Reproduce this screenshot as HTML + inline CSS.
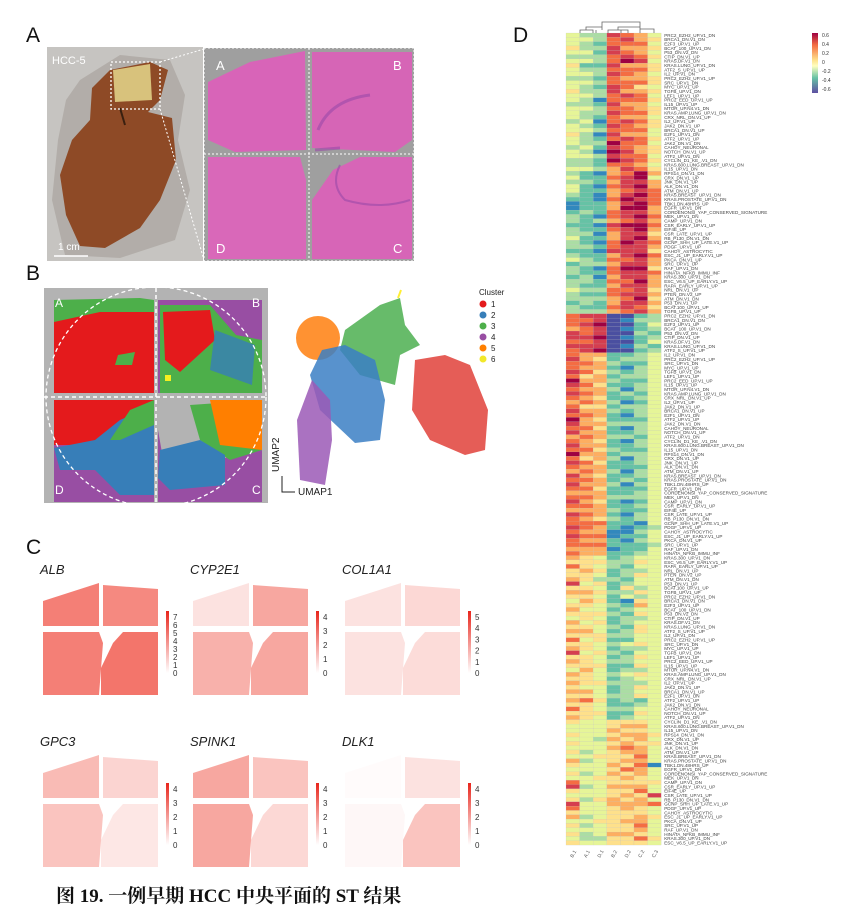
<!DOCTYPE html>
<html><head><meta charset="utf-8">
<style>
body{margin:0;background:#fff;width:865px;height:917px;overflow:hidden;font-family:"Liberation Sans",sans-serif;}
#root{position:relative;width:865px;height:917px;}
.plabel{position:absolute;font-size:21px;color:#111;}
svg{position:absolute;left:0;top:0;}
</style></head>
<body><div id="root">
<div class="plabel" style="left:26px;top:24px">A</div>
<div class="plabel" style="left:26px;top:262px">B</div>
<div class="plabel" style="left:26px;top:536px">C</div>
<div class="plabel" style="left:513px;top:24px">D</div>

<svg width="865" height="917">
<defs>
<linearGradient id="cb" x1="0" y1="1" x2="0" y2="0"><stop offset="0" stop-color="#fff"/><stop offset="1" stop-color="#e8261c"/></linearGradient>
<linearGradient id="hcb" x1="0" y1="0" x2="0" y2="1"><stop offset="0" stop-color="#9e0142"/><stop offset="0.2" stop-color="#f46d43"/><stop offset="0.45" stop-color="#fee08b"/><stop offset="0.55" stop-color="#ffffbf"/><stop offset="0.75" stop-color="#66c2a5"/><stop offset="1" stop-color="#5e4fa2"/></linearGradient>
</defs>
<!-- Panel A photo -->
<g>
<rect x="47" y="47" width="156" height="214" fill="#c6c4c1"/>
<path d="M80,80 L120,55 L170,60 L185,95 L178,140 L190,190 L175,240 L120,258 L65,255 L52,200 L58,140 L66,100 Z" fill="#a9a49e" opacity="0.7"/>
<path d="M92,88 L110,70 L150,62 L168,70 L160,100 L148,112 L172,118 L176,160 L160,200 L140,228 L105,248 L80,246 L66,215 L60,175 L72,140 L90,120 Z" fill="#8e4a26"/>
<path d="M113,70 L150,64 L152,100 L115,102 Z" fill="#d8c27c"/>
<path d="M120,108 L125,125" stroke="#3a2010" stroke-width="2"/>
<rect x="111" y="62" width="49" height="47" fill="none" stroke="#fff" stroke-width="1.3" stroke-dasharray="2,2"/>
<line x1="160" y1="62" x2="204" y2="49" stroke="#fff" stroke-dasharray="2,2"/>
<line x1="160" y1="109" x2="204" y2="260" stroke="#fff" stroke-dasharray="2,2"/>
<text x="52" y="64" font-size="11" fill="#fff">HCC-5</text>
<text x="58" y="250" font-size="10" fill="#fff">1 cm</text>
<line x1="54" y1="256" x2="88" y2="256" stroke="#fff" stroke-width="1.5"/>
</g>
<!-- H&E -->
<g>
<rect x="204" y="48" width="210" height="213" fill="#9f9f9f"/>
<path d="M208,82 L250,62 L305,51 L306,150 L235,152 L208,140 Z" fill="#d864b8"/>
<path d="M312,52 L412,52 L412,140 L395,152 L312,148 Z" fill="#d665b6"/>
<path d="M208,157 L300,157 L306,180 L306,259 L208,259 Z" fill="#d968b9"/>
<path d="M333,170 L360,157 L412,157 L412,259 L312,259 L312,200 Z" fill="#d765b7"/>
<path d="M318,130 Q330,100 370,95 M315,150 L340,148" stroke="#9a4aa8" stroke-width="3" fill="none" opacity="0.6"/>
<path d="M340,165 Q330,185 345,200 Q380,210 410,200" stroke="#9a4aa8" stroke-width="2" fill="none" opacity="0.6"/>
<line x1="309" y1="48" x2="309" y2="261" stroke="#fff" stroke-dasharray="2,2"/>
<line x1="204" y1="154" x2="414" y2="154" stroke="#fff" stroke-dasharray="2,2"/>
<rect x="204" y="48" width="210" height="213" fill="none" stroke="#fff" stroke-dasharray="2,2"/>
<text x="216" y="70" font-size="13" fill="#fff">A</text><text x="393" y="70" font-size="13" fill="#fff">B</text>
<text x="216" y="253" font-size="13" fill="#fff">D</text><text x="393" y="253" font-size="13" fill="#fff">C</text>
</g>
<!-- Panel B spatial clusters -->
<g>
<rect x="44" y="288" width="224" height="215" fill="#b3b3b3"/>
<rect x="54" y="300" width="100" height="93" fill="#e41a1c"/>
<path d="M54,300 L140,298 L154,300 L154,312 L100,312 L54,322 Z" fill="#4daf4a"/>
<path d="M118,355 L135,352 L132,365 L115,365 Z" fill="#4daf4a"/>
<rect x="158" y="300" width="104" height="93" fill="#984ea3"/>
<path d="M160,305 L210,305 L236,335 L262,340 L262,393 L160,393 Z" fill="#4daf4a"/>
<path d="M163,312 L210,310 L215,340 L180,372 L165,360 Z" fill="#e41a1c"/>
<path d="M215,330 L255,345 L252,385 L210,370 Z" fill="#377eb8" opacity="0.8"/>
<rect x="165" y="375" width="6" height="6" fill="#f5ef20"/>
<rect x="54" y="400" width="100" height="102" fill="#984ea3"/>
<rect x="54" y="400" width="100" height="45" fill="#e41a1c"/>
<path d="M54,448 L95,440 L120,420 L154,405 L154,495 L120,495 L95,470 L60,470 Z" fill="#377eb8"/>
<path d="M110,440 L130,410 L154,400 L154,425 L120,440 Z" fill="#4daf4a"/>
<rect x="158" y="400" width="104" height="102" fill="#984ea3"/>
<path d="M158,400 L262,400 L262,450 L215,460 L165,470 L158,430 Z" fill="#b3b3b3"/>
<path d="M190,405 L262,400 L262,450 L230,460 L200,440 Z" fill="#4daf4a"/>
<path d="M210,400 L262,400 L262,450 L220,445 Z" fill="#ff7f00"/>
<path d="M160,450 L200,440 L225,455 L225,485 L170,490 L158,478 Z" fill="#377eb8"/>
<circle cx="156" cy="397" r="110" fill="none" stroke="#fff" stroke-width="1.3" stroke-dasharray="4,3"/>
<line x1="156" y1="288" x2="156" y2="503" stroke="#fff" stroke-width="1.5" stroke-dasharray="4,3"/>
<line x1="44" y1="397" x2="268" y2="397" stroke="#fff" stroke-width="1.5" stroke-dasharray="4,3"/>
<text x="55" y="307" font-size="12" fill="#fff">A</text><text x="252" y="307" font-size="12" fill="#fff">B</text>
<text x="55" y="494" font-size="12" fill="#fff">D</text><text x="252" y="494" font-size="12" fill="#fff">C</text>
</g>
<!-- UMAP -->
<g>
<ellipse cx="318" cy="338" rx="22" ry="22" fill="#ff7f0e" opacity="0.85"/>
<path d="M345,330 L380,305 L400,298 L405,325 L420,345 L400,355 L395,385 L360,375 L340,350 Z" fill="#4caf50" opacity="0.85"/>
<path d="M322,350 L345,345 L375,360 L385,400 L380,440 L355,443 L320,410 L310,375 Z" fill="#3b7fc4" opacity="0.85"/>
<path d="M312,380 L330,400 L332,440 L325,485 L300,480 L297,420 Z" fill="#9b59b6" opacity="0.85"/>
<path d="M415,360 L445,355 L470,365 L488,410 L485,450 L465,455 L430,440 L412,410 Z" fill="#e0413a" opacity="0.85"/>
<line x1="398" y1="298" x2="401" y2="290" stroke="#ffee33" stroke-width="2"/>
<path d="M282,476 L282,492 L295,492" fill="none" stroke="#222" stroke-width="1"/>
<text x="298" y="495" font-size="10" fill="#222">UMAP1</text>
<text x="279" y="472" font-size="10" fill="#222" transform="rotate(-90 279 472)">UMAP2</text>
<text x="479" y="295" font-size="8" fill="#222">Cluster</text>
</g>
<g font-size="8" fill="#222">
<circle cx="483" cy="304" r="3.5" fill="#e41a1c"/><text x="491" y="307">1</text>
<circle cx="483" cy="315" r="3.5" fill="#377eb8"/><text x="491" y="318">2</text>
<circle cx="483" cy="326" r="3.5" fill="#4daf4a"/><text x="491" y="329">3</text>
<circle cx="483" cy="337" r="3.5" fill="#984ea3"/><text x="491" y="340">4</text>
<circle cx="483" cy="348" r="3.5" fill="#ff7f00"/><text x="491" y="351">5</text>
<circle cx="483" cy="359" r="3.5" fill="#f2e82a"/><text x="491" y="362">6</text>
</g>
<g id="cmaps"></g>
<text x="56" y="902" font-family="'Liberation Serif','Noto Serif CJK SC',serif" font-weight="bold" font-size="19" fill="#111">图 19.  一例早期 HCC 中央平面的 ST 结果</text>
<g id="heat"></g>
<g>
<rect x="812" y="33" width="6" height="60" fill="url(#hcb)"/>
<g font-size="5" fill="#333"><text x="822" y="37">0.6</text><text x="822" y="46">0.4</text><text x="822" y="55">0.2</text><text x="822" y="64">0</text><text x="822" y="73">-0.2</text><text x="822" y="82">-0.4</text><text x="822" y="91">-0.6</text></g>
</g>
<g fill="none" stroke="#666" stroke-width="0.8">
<path d="M580,33 L580,30 L593,30 L593,33 M586,30 L586,27 L602,27 L602,30 M596,30 L596,33 M608,33 L608,30 L628,30 L628,33 M618,30 L618,27 L640,27 L640,33 M602,27 L602,22 L640,22 L640,27 M621,30 L621,33 M654,33 L654,29 L640,29"/>
</g>
</svg>
</div>
<script>
// ---- Heatmap data ----
const heatColumns=["B.1","A.1","D.1","B.2","D.2","C.2","C.3"];
const heatRows=[
"4338764","4437865","4327774","5338665","4428764","3337875","4437984","5228665","4337775","4438764","3327665","4437775","4328754","5338665","4437874","4317775","3328664","4437765","4338775","4327664","3417875","4328765","4437774","5318664","4327875","4339774","3428765","4319865","4438774","3329875","3327764","4436875","3216796","4227894","3326886","4217896","4226787",
"3216897","2217987","1226897","1226996","2327886","3217897","3236786","2218997","3227896","3316885","4226896","3217987","3327886","2218885","3226897","4327786","2336886","3217995","3227887","2316886","3327796","3226886","4337785","3227886","3336795","2326886","3227875","3336786",
"7880023","7780133","7890024","6780123","8780032","8890123","7780024","8880132","7890023",
"7662234","8652334","7763224","7662134","8753234","7562334","9663224","8752234","7663134","8762324","7652234","6763124","7552334","8663234","7762134","9652224","8663334","7752134","8662234","6763324","7652134","8662234","7753224","9662334","7563134","8752234","7662224","6763134","8652234","7762324","8663134","7752224","6662234","7763334","8652124","7762234","6663224","8762134","7653234","7772214","8762123","7661134","8771224","7662134","7772223","6661224","7662234",
"6542344","5553354","7543244","5652334","5542354","6533244","8452344","5542534","6653354","5542434","4652154","5543264","6442344","5553254","4542334","6452344","5543254","6642354","5553344","7452244","5543454","6542334","8453244","5542354","6543344","5552254","4642334","6543454","5542344","6553334","5442354","6642344","5543354","6752324","5542234","7543344","5552254","6542344",
"5445554","4445664","4446554","5445665","4436564","5445655","4446764","5345664","4455574","6345664","5446571","4445764","5346564","4455654","7445555","8346664","5445574","4445658","5356564","8446667","7445654","5445554","6345565","4455664","5345574","4445564","5346654","4335575","5445554"];
const heatNames=["PRC2_EZH2_UP.V1_DN","BRCA1_DN.V1_DN","E2F3_UP.V1_UP","BCAT_100_UP.V1_DN","P53_DN.V2_DN","CTIP_DN.V1_UP","KRAS.DF.V1_DN","KRAS.LUNG_UP.V1_DN","ATF2_S_UP.V1_UP","IL2_UP.V1_DN","PRC2_EZH2_UP.V1_UP","SRC_UP.V1_DN","MYC_UP.V1_UP","TGFB_UP.V1_DN","LEF1_UP.V1_UP","PRC2_EED_UP.V1_UP","IL15_UP.V1_UP","MTOR_UP.N4.V1_DN","KRAS.AMP.LUNG_UP.V1_DN","CRX_NRL_DN.V1_UP","IL2_UP.V1_UP","JAK2_DN.V1_UP","BRCA1_DN.V1_UP","E2F1_UP.V1_DN","ATF2_UP.V1_UP","JAK2_DN.V1_DN","CAHOY_NEURONAL","NOTCH_DN.V1_UP","ATF2_UP.V1_DN","CYCLIN_D1_KE_.V1_DN","KRAS.600.LUNG.BREAST_UP.V1_DN","IL15_UP.V1_DN","RPS14_DN.V1_DN","CRX_DN.V1_UP","JNK_DN.V1_UP","ALK_DN.V1_DN","ATM_DN.V1_UP","KRAS.BREAST_UP.V1_DN","KRAS.PROSTATE_UP.V1_DN","TBK1.DN.48HRS_UP","EGFR_UP.V1_DN","CORDENONSI_YAP_CONSERVED_SIGNATURE","MEK_UP.V1_DN","CAMP_UP.V1_DN","CSR_EARLY_UP.V1_UP","EIF4E_UP","CSR_LATE_UP.V1_UP","RB_P130_DN.V1_DN","GCNP_SHH_UP_LATE.V1_UP","PDGF_UP.V1_UP","CAHOY_ASTROCYTIC","ESC_J1_UP_EARLY.V1_UP","PKCA_DN.V1_UP","SRC_UP.V1_UP","RAF_UP.V1_DN","HINATA_NFKB_IMMU_INF","KRAS.300_UP.V1_DN","ESC_V6.5_UP_EARLY.V1_UP","RAPA_EARLY_UP.V1_UP","NRL_DN.V1_UP","PTEN_DN.V2_UP","ATM_DN.V1_DN","P53_DN.V1_UP","BCAT.100_UP.V1_UP","TGFB_UP.V1_UP"];
const heatColors=["#4a4fa0","#3288bd","#66c2a5","#abdda4","#e6f598","#fee08b","#fdae61","#f46d43","#d53e4f","#9e0142"];
const NS="http://www.w3.org/2000/svg";
const hx0=566,hw=13.6,hy0=33,hh=812/heatRows.length;
function colX(j){return hx0+j*hw;}
function rowY(i){return hy0+i*hh;}
const heat=document.getElementById('heat');
heatRows.forEach((r,i)=>{
  for(let j=0;j<heatColumns.length;j++){
    const c=document.createElementNS(NS,'rect');
    c.setAttribute('x',colX(j));c.setAttribute('y',rowY(i));
    c.setAttribute('width',hw);c.setAttribute('height',hh+0.05);
    c.setAttribute('fill',heatColors[+r[j]]);
    c.setAttribute('stroke','#bbb');c.setAttribute('stroke-width','0.15');
    
    
    heat.appendChild(c);
  }
  const t=document.createElementNS(NS,'text');
  t.setAttribute('x',colX(7)+3);t.setAttribute('y',rowY(i)+hh-0.5);
  t.setAttribute('font-size','4.6');t.setAttribute('fill','#444');
  t.textContent=heatNames[i%heatNames.length];
  
  
  heat.appendChild(t);
});
heatColumns.forEach((n,j)=>{
  const t=document.createElementNS(NS,'text');
  const x=colX(j)+hw/2,y=858;
  t.setAttribute('x',x);t.setAttribute('y',y);t.setAttribute('font-size','5');t.setAttribute('fill','#555');
  t.setAttribute('transform','rotate(-60 '+x+' '+y+')');
  t.textContent=n;
  
  
  heat.appendChild(t);
});
// ---- Panel C gene maps ----
const geneNames=["ALB","CYP2E1","COL1A1","GPC3","SPINK1","DLK1"];
const geneMax=[7,4,5,4,4,4];
const geneQuadA=[0.65,0.15,0.15,0.35,0.45,0.02];
const geneQuadB=[0.6,0.45,0.2,0.22,0.3,0.15];
const geneQuadD=[0.65,0.4,0.15,0.3,0.45,0.04];
const geneQuadC=[0.7,0.45,0.18,0.12,0.2,0.3];
const cm=document.getElementById('cmaps');
geneNames.forEach((g,k)=>{
  const ox=[43,193,345][k%3], oy=k<3?583:755;
  const grp=document.createElementNS(NS,'g');
  
  
  const quads=[["M0,18 L56,0 L56,43 L0,43 Z",geneQuadA[k]],["M60,2 L115,6 L115,43 L60,43 Z",geneQuadB[k]],["M0,49 L56,49 L60,60 L56,112 L0,112 Z",geneQuadD[k]],["M70,60 L80,49 L115,49 L115,112 L58,112 L58,85 Z",geneQuadC[k]]];
  quads.forEach(q=>{const p=document.createElementNS(NS,'path');p.setAttribute('d',q[0]);p.setAttribute('fill','#ee3b2c');p.setAttribute('fill-opacity',q[1]);p.setAttribute('transform','translate('+ox+','+oy+')');grp.appendChild(p);});
  const lbl=document.createElementNS(NS,'text');
  lbl.setAttribute('x',ox-3);lbl.setAttribute('y',oy-9);lbl.setAttribute('font-size','13');lbl.setAttribute('font-style','italic');lbl.setAttribute('fill','#222');
  lbl.textContent=g;grp.appendChild(lbl);
  const cbx=ox+123, cby=oy+28, cbh=62;
  const bar=document.createElementNS(NS,'rect');
  bar.setAttribute('x',cbx);bar.setAttribute('y',cby);bar.setAttribute('width',3);bar.setAttribute('height',cbh);bar.setAttribute('fill','url(#cb)');
  grp.appendChild(bar);
  for(let v=0;v<=geneMax[k];v++){
    const t=document.createElementNS(NS,'text');
    t.setAttribute('x',cbx+7);t.setAttribute('y',cby+cbh-v*(cbh-6)/geneMax[k]+3);
    t.setAttribute('font-size','8');t.setAttribute('fill','#333');t.textContent=v;
    grp.appendChild(t);
  }
  cm.appendChild(grp);
});
</script>
</body></html>
